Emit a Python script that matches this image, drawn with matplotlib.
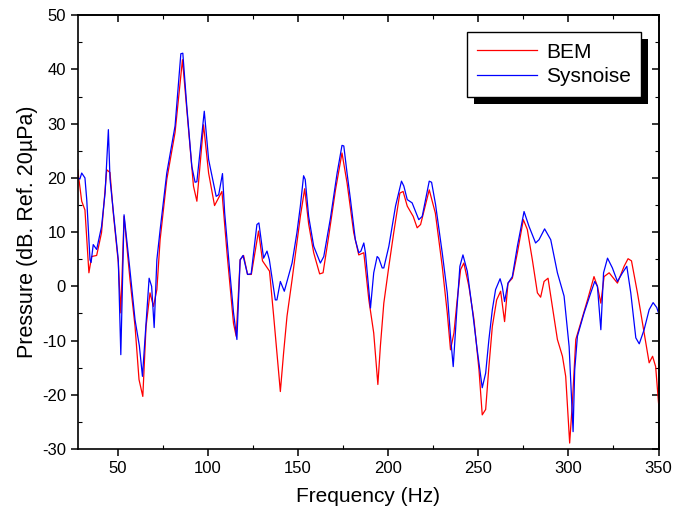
import matplotlib
matplotlib.use("Agg")
import matplotlib.pyplot as plt
import matplotlib.patheffects as pe
from matplotlib.ticker import MultipleLocator

plt.rcParams['font.family'] = ['Liberation Sans', 'DejaVu Sans']
plt.rcParams['axes.unicode_minus'] = False

# BEM (red)
bem_f = [27.8, 30, 31.8, 34, 35.5, 38.3, 41, 43.9, 45.7, 47.5, 50.3, 51.7, 53.5, 56.8,
         59.6, 61.8, 63.9, 65.7, 67.9, 69.8, 71.7, 73.5, 77.2, 81.8, 85.9, 88.3, 92, 93.9,
         97.6, 100.4, 103.7, 107.8, 110.6, 114.2, 115.7, 117.9, 119.8, 122, 124.1, 128.1,
         130.3, 134.2, 136.5, 138.3, 140.2, 142, 143.9, 146.7, 149.4, 151.3, 153.7, 155.9,
         158.7, 162, 163.9, 167, 170.8, 174.4, 177.2, 180.9, 183.7, 186.5, 189.3, 192,
         194.3, 195.7, 197.6, 200.4, 203.1, 206.5, 208.3, 210.6, 213.9, 216.1, 218, 222.8,
         226.2, 230, 232.8, 234.6, 236.5, 238.3, 240.2, 242, 244.8, 247.6, 250.4, 252.2,
         254.1, 255.9, 257.8, 260.2, 262.4, 264.6, 266.5, 268.9, 271.7, 275, 277.2, 280,
         282.8, 284.6, 286.5, 288.7, 291.1, 293.9, 296.7, 298.5, 300.7, 302.2, 304.1, 306.8,
         310.6, 314.2, 316.1, 318, 319.8, 322.6, 327.2, 330.9, 333.1, 335, 338.3, 342,
         344.8, 346.7, 348.4, 350]
bem_p = [21.5, 15.7, 14.1, 2.5, 5.5, 5.7, 9.9, 21.5, 21, 13.6, 4.4, -4.9, 12.9, 1.2,
         -7.4, -17.2, -20.3, -7.4, -1.2, -3.7, -0.6, 8.6, 19.7, 28.4, 41.8, 32.6, 18.5, 15.7,
         29.8, 20.9, 14.9, 17.5, 6.2, -6.8, -9.2, 4.9, 5.7, 2.2, 2.2, 10.2,
         4.7, 2.8, -5.5, -12.3, -19.4, -12.3, -5.5, 1.2, 8, 12.9, 18, 11.5,
         6.2, 2.3, 2.5, 9.2, 17.8, 24.6, 19.1, 9.9, 5.8, 6.2, -2.5, -8.6,
         -18.1, -11, -3.1, 3.7, 9.9, 17.2, 17.5, 14.8, 12.9, 10.8, 11.4, 17.8,
         13.5, 3.7, -4.9, -11.7, -8.6, -2.5, 3.1, 4.3, 0, -6.1, -15.4, -23.7,
         -22.7, -14.8, -7.4, -2.5, -0.9, -6.5, 0.6, 1.5, 6.2, 12.3, 10.5, 4.9,
         -1.2, -2, 0.9, 1.5, -3.7, -9.8, -12.9, -16.6, -28.9, -21.5, -9.8, -6.8,
         -2.5, 1.8, 0, -3.1, 1.8, 2.5, 0.6, 3.7, 5.1, 4.7, -1.2, -8.6,
         -14.1, -12.9, -14.8, -21.5]

# Sysnoise (blue)
sys_f = [27.8, 29, 30, 31.8, 32.8, 34.6, 35.2, 36.4, 38.3, 41, 43, 44.8, 45.7, 47.5,
         50.3, 51.7, 53.5, 56.8, 59.6, 62, 63.7, 67.4, 68.8, 70.2, 71.7, 73.5, 77.2, 81.8,
         85, 86.1, 88.3, 91.1, 92.9, 93.9, 98, 100.4, 104.6, 106, 108.1, 109.3, 111.7,
         114.2, 116.1, 117.9, 119.5, 122, 124, 127.2, 128.3, 130.9, 132.8, 134.1, 137.4,
         138.3, 140.2, 142.4, 146.7, 149.4, 151.3, 153.1, 154, 155.9, 158.7, 162.4, 164.3,
         168, 171.7, 174.4, 175.4, 177.2, 179.1, 181.8, 183.7, 184.9, 186.5, 187.4, 190.2,
         192, 193.9, 194.8, 196.7, 197.6, 200.4, 204.1, 207.4, 208.7, 210.6, 213.3, 217,
         218.9, 222.8, 224.1, 226.3, 230, 232.8, 234.6, 236.1, 238, 239.8, 241.5, 243.9,
         246.7, 249.4, 252.2, 254.1, 255.9, 257.8, 259.6, 262.1, 263.3, 264.6, 266.5, 268.9,
         271.7, 275.4, 278.1, 281.8, 283.7, 286.8, 290.2, 293.9, 297.6, 300.4, 301.6, 302.6,
         303.5, 305, 308.7, 312.4, 314.6, 316.1, 318, 319.5, 321.7, 324.4, 327.2, 330,
         332.4, 334.6, 337.4, 339.3, 342, 344.8, 347, 349, 350]
sys_p = [20, 19.8, 20.9, 20, 16, 4.9, 4.4, 7.7, 6.8, 11, 17.3, 28.9, 19.8, 14,
         4.9, -12.6, 13.2, 2.9, -6.2, -11, -16.6, 1.5, 0, -7.6, 4.9, 10.4, 20.9, 29.6,
         42.9, 43, 33.2, 22.1, 19.2, 19.3, 32.3, 23.4, 16.6, 16.9, 20.8, 13.6, 4.4,
         -4.8, -9.8, 4.9, 5.7, 2.2, 2.3, 11.4, 11.7, 5.2, 6.5, 4.9, -2.5,
         -2.5, 0.9, -0.9, 4.3, 9.9, 14.8, 20.4, 19.7, 12.9, 7.4, 4.3, 5.5,
         12.6, 20.9, 26, 25.9, 20.9, 16, 8.6, 6.2, 6.5, 8, 6.2, -4,
         2.5, 5.5, 5.2, 3.4, 3.4, 7.4, 14.8, 19.4, 18.5, 16, 15.4, 12.3,
         12.9, 19.4, 19.2, 15.1, 6.2, -1.2, -9.2, -14.8, -4.9, 3.7, 5.8, 2.8,
         -4.3, -11.7, -18.7, -16, -9.8, -4.3, -0.6, 1.4, 0, -2.8, 0.6, 1.8,
         7.4, 13.8, 11.1, 8, 8.6, 10.6, 8.6, 2.5, -1.8, -11.1, -19.7, -26.8,
         -15.4, -9.2, -4.9, -1.2, 0.9, 0, -8, 2.5, 5.2, 3.4, 0.9, 2.5,
         3.7, -1.2, -9.5, -10.6, -8, -4.3, -3, -3.9, -4.9]

fig = plt.figure(figsize=(6.73, 5.17), dpi=100)
ax = fig.add_axes([0.1155, 0.1315, 0.863, 0.839])

ax.plot(bem_f, bem_p, color='red', lw=0.9, label='BEM')
ax.plot(sys_f, sys_p, color='blue', lw=0.9, label='Sysnoise')

ax.set_xlim(27.8, 350)
ax.set_ylim(-30, 50)
ax.xaxis.set_major_locator(MultipleLocator(50))
ax.xaxis.set_minor_locator(MultipleLocator(25))
ax.yaxis.set_major_locator(MultipleLocator(10))
ax.yaxis.set_minor_locator(MultipleLocator(5))
ax.tick_params(which='major', direction='out', length=5, width=1.1, labelsize=12)
ax.tick_params(which='minor', direction='in', length=3, width=0.8)

# mirrored ticks on top / right, pointing in, no labels
top = ax.secondary_xaxis('top')
top.xaxis.set_major_locator(MultipleLocator(50))
top.xaxis.set_minor_locator(MultipleLocator(25))
top.tick_params(which='both', direction='in', labeltop=False)
top.tick_params(which='major', length=5, width=1.1)
top.tick_params(which='minor', length=3, width=0.8)
right = ax.secondary_yaxis('right')
right.yaxis.set_major_locator(MultipleLocator(10))
right.yaxis.set_minor_locator(MultipleLocator(5))
right.tick_params(which='both', direction='in', labelright=False)
right.tick_params(which='major', length=5, width=1.1)
right.tick_params(which='minor', length=3, width=0.8)

for s in ax.spines.values():
    s.set_linewidth(1.2)
top.spines['top'].set_linewidth(1.2)
right.spines['right'].set_linewidth(1.2)

ax.set_xlabel('Frequency (Hz)', fontsize=15, labelpad=8)
ax.set_ylabel('Pressure (dB. Ref. 20µPa)', fontsize=15.5, labelpad=3)

leg = ax.legend(loc='upper right', bbox_to_anchor=(0.970, 0.961), borderaxespad=0,
                fontsize=15, fancybox=False, framealpha=1, edgecolor='black',
                handlelength=2.9, handletextpad=0.4, labelspacing=0.28, borderpad=0.5)
frame = leg.get_frame()
frame.set_linewidth(1.0)
frame.set_path_effects([pe.SimplePatchShadow(offset=(5, -5), shadow_rgbFace='black', alpha=1.0),
                        pe.Normal()])

fig.savefig('out.png', dpi=100)
